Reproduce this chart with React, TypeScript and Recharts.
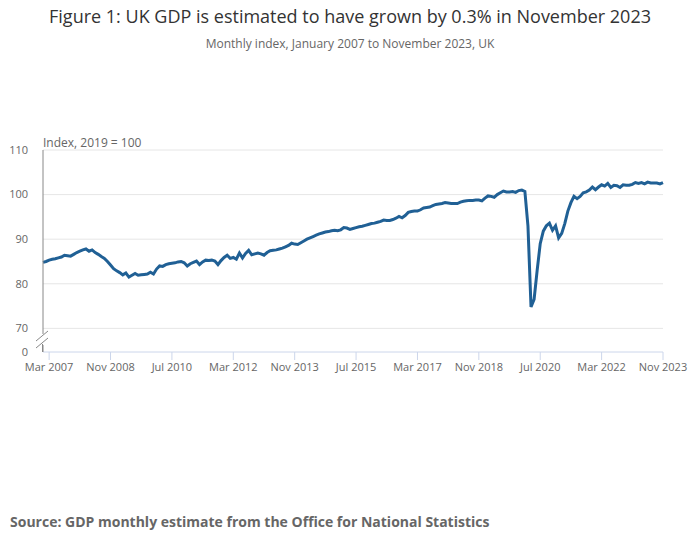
import React from "react";
import {
  LineChart,
  Line,
  XAxis,
  YAxis,
  ReferenceLine,
} from "recharts";

// Monthly index values, 2019 = 100
const gdp2007 = [84.8, 85.0, 85.3, 85.5, 85.6, 85.8, 86.0, 86.4, 86.3, 86.2, 86.6, 87.0];
const gdp2008 = [87.3, 87.6, 87.8, 87.3, 87.6, 87.0, 86.6, 86.1, 85.7, 85.0, 84.2, 83.4];
const gdp2009 = [82.9, 82.5, 82.0, 82.4, 81.5, 81.9, 82.3, 81.9, 82.0, 82.1, 82.2, 82.6];
const gdp2010 = [82.2, 83.3, 84.0, 83.9, 84.3, 84.5, 84.6, 84.7, 84.9, 85.0, 84.7, 84.0];
const gdp2011 = [84.5, 84.8, 85.1, 84.3, 84.9, 85.3, 85.2, 85.3, 85.1, 84.3, 85.2, 85.9];
const gdp2012 = [86.4, 85.7, 85.9, 85.5, 86.9, 85.8, 86.8, 87.5, 86.5, 86.7, 86.9, 86.7];
const gdp2013 = [86.4, 87.0, 87.4, 87.5, 87.6, 87.8, 88.0, 88.3, 88.6, 89.1, 88.9, 88.8];
const gdp2014 = [89.2, 89.6, 90.0, 90.3, 90.6, 90.9, 91.2, 91.4, 91.6, 91.7, 91.9, 92.0];
const gdp2015 = [91.9, 92.1, 92.6, 92.5, 92.2, 92.4, 92.6, 92.8, 92.9, 93.1, 93.3, 93.5];
const gdp2016 = [93.6, 93.8, 94.0, 94.3, 94.2, 94.2, 94.4, 94.7, 95.1, 94.8, 95.3, 96.0];
const gdp2017 = [96.2, 96.3, 96.3, 96.6, 97.0, 97.1, 97.2, 97.5, 97.8, 97.9, 98.0, 98.2];
const gdp2018 = [98.1, 98.0, 98.0, 98.0, 98.3, 98.5, 98.6, 98.7, 98.7, 98.8, 98.8, 98.6];
const gdp2019 = [99.2, 99.7, 99.6, 99.4, 100.0, 100.4, 100.8, 100.6, 100.6, 100.7, 100.5, 100.9];
const gdp2020 = [101.0, 100.7, 93.0, 74.8, 76.5, 83.0, 89.0, 91.8, 93.0, 93.6, 92.0, 93.0];
const gdp2021 = [90.3, 91.3, 93.5, 96.3, 98.2, 99.6, 99.1, 99.6, 100.4, 100.6, 101.0, 101.7];
const gdp2022 = [101.1, 101.7, 102.2, 101.9, 102.5, 101.6, 102.1, 102.0, 101.6, 102.2, 102.1, 102.1];
const gdp2023 = [102.3, 102.7, 102.5, 102.7, 102.4, 102.8, 102.6, 102.6, 102.6, 102.4, 102.7];

const years = [2007, 2008, 2009, 2010, 2011, 2012, 2013, 2014, 2015, 2016, 2017, 2018, 2019, 2020, 2021, 2022, 2023];
const monthNames = ["Jan", "Feb", "Mar", "Apr", "May", "Jun", "Jul", "Aug", "Sep", "Oct", "Nov", "Dec"];

const xTicks = [
  "Mar 2007", "Nov 2008", "Jul 2010", "Mar 2012", "Nov 2013", "Jul 2015",
  "Mar 2017", "Nov 2018", "Jul 2020", "Mar 2022", "Nov 2023",
];
// bottom tick sits at the axis break and is shown as "0"
const yBreak = 64.7;
const yTicks = [yBreak, 70, 80, 90, 100, 110];
const gridValues = [70, 80, 90, 100, 110];

const series = [
  gdp2007, gdp2008, gdp2009, gdp2010, gdp2011, gdp2012, gdp2013, gdp2014, gdp2015,
  gdp2016, gdp2017, gdp2018, gdp2019, gdp2020, gdp2021, gdp2022, gdp2023,
];

const data = series.flatMap((vals, i) =>
  vals.map((v, j) => ({ month: `${monthNames[j]} ${years[i]}`, gdp: v }))
);

const font = "'Open Sans', sans-serif";

const App: React.FC = () => {
  return (
    <div
      style={{
        position: "relative",
        width: 700,
        height: 549,
        margin: -8,
        background: "#fff",
        fontFamily: font,
      }}
    >
      <div
        style={{
          position: "absolute",
          top: 4,
          left: 0,
          width: 700,
          textAlign: "center",
          fontSize: 18,
          color: "#333333",
        }}
      >
        Figure 1: UK GDP is estimated to have grown by 0.3% in November 2023
      </div>
      <div
        style={{
          position: "absolute",
          top: 35,
          left: 0,
          width: 700,
          textAlign: "center",
          fontSize: 12,
          color: "#666666",
        }}
      >
        Monthly index, January 2007 to November 2023, UK
      </div>
      <div
        style={{
          position: "absolute",
          top: 134,
          left: 43,
          fontSize: 12,
          color: "#666666",
        }}
      >
        Index, 2019 = 100
      </div>

      <div style={{ position: "absolute", top: 0, left: 0 }}>
        <LineChart
          width={700}
          height={549}
          data={data}
          margin={{ top: 150, right: 37, bottom: 167, left: 0 }}
        >
          {gridValues.map((v) => (
            <ReferenceLine key={v} y={v} stroke="#e6e6e6" strokeWidth={1} />
          ))}
          <XAxis
            dataKey="month"
            ticks={xTicks}
            interval={0}
            height={30}
            axisLine={{ stroke: "#ccd6eb" }}
            tickLine={{ stroke: "#ccd6eb" }}
            tickSize={8}
            tickMargin={3}
            tick={{ fontSize: 11, fill: "#666666", fontFamily: font }}
          />
          <YAxis
            type="number"
            domain={[yBreak, 110]}
            ticks={yTicks}
            width={43}
            axisLine={{ stroke: "#888888" }}
            tickLine={false}
            tickSize={6}
            tickMargin={9}
            tickFormatter={(v: number) => (v < 65 ? "0" : String(v))}
            tick={{ fontSize: 11, fill: "#666666", fontFamily: font }}
          />
          <Line
            type="linear"
            dataKey="gdp"
            stroke="#206095"
            strokeWidth={3}
            dot={false}
            isAnimationActive={false}
          />
        </LineChart>
      </div>

      {/* axis break marks */}
      <svg
        width={700}
        height={549}
        style={{ position: "absolute", top: 0, left: 0, pointerEvents: "none" }}
      >
        <rect x={38} y={334} width={10} height={11} fill="#fff" />
        <line x1={36} y1={341} x2={48} y2={331} stroke="#888888" strokeWidth={1} />
        <line x1={36} y1={348} x2={48} y2={338} stroke="#888888" strokeWidth={1} />
        <line x1={42.5} y1={344} x2={42.5} y2={352} stroke="#888888" strokeWidth={1} />
      </svg>

      <div
        style={{
          position: "absolute",
          top: 512,
          left: 10,
          fontSize: 14,
          fontWeight: 700,
          color: "#666666",
        }}
      >
        Source: GDP monthly estimate from the Office for National Statistics
      </div>
    </div>
  );
};

export default App;
